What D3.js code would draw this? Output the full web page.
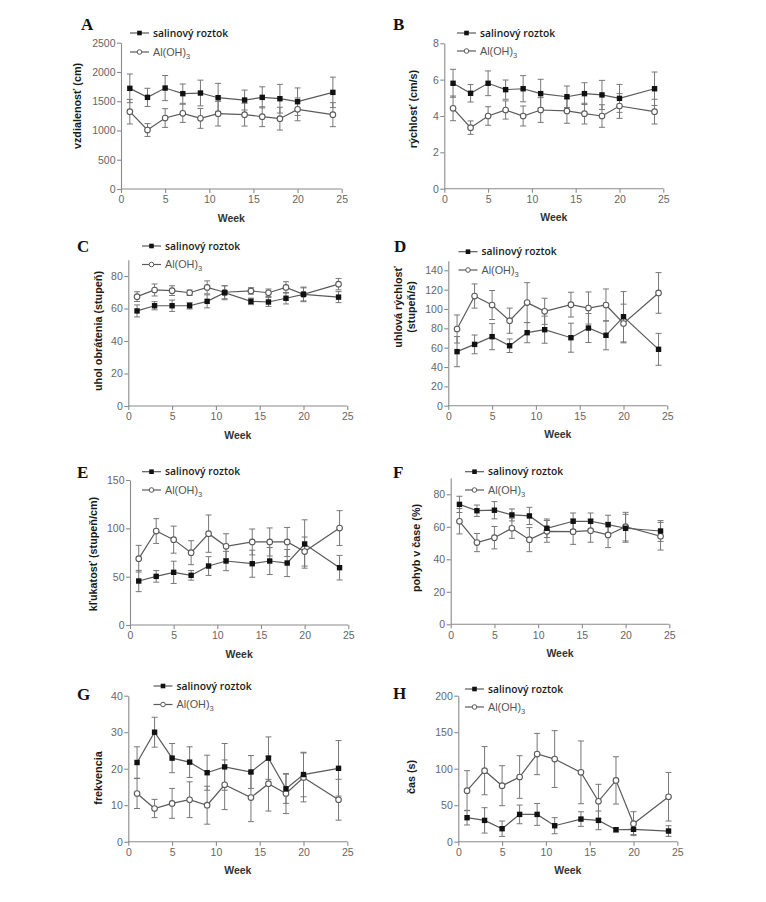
<!DOCTYPE html>
<html><head><meta charset="utf-8">
<script src="https://cdn.jsdelivr.net/npm/d3@7"></script>
<style>
html,body{margin:0;padding:0;background:#fff;}
</style>
</head><body>
<svg id="chart" width="766" height="902"></svg>
<script>
// ---------- DATA ----------
const weeks = [1, 3, 5, 7, 9, 11, 14, 16, 18, 20, 24];
const xTicks = [0, 5, 10, 15, 20, 25];
const seriesNames = ["salinový roztok", "Al(OH)"];
const panelLetters = ["A", "B", "C", "D", "E", "F", "G", "H"];
const yTitles = [["vzdialenosť (cm)"], ["rýchlosť (cm/s)"], ["uhol obrátenia (stupeň)"], ["uhlová rýchlosť", "(stupeň/s)"],
                 ["kľukatosť (stupeň/cm)"], ["pohyb v čase (%)"], ["frekvencia"], ["čas (s)"]];
const yTicksA = [0, 500, 1000, 1500, 2000, 2500];
const yTicksB = [0, 2, 4, 6, 8];
const yTicksC = [0, 20, 40, 60, 80];
const yTicksD = [0, 20, 40, 60, 80, 100, 120, 140];
const yTicksE = [0, 50, 100, 150];
const yTicksF = [0, 20, 40, 60, 80];
const yTicksG = [0, 10, 20, 30, 40];
const yTicksH = [0, 50, 100, 150, 200];
const yMax = [2500, 8, 90, 150, 150, 90, 40, 200];

const salineA = [1720, 1566, 1725, 1629, 1640, 1560, 1520, 1566, 1543, 1492, 1651];
const salineAErr = [245, 155, 215, 165, 220, 245, 170, 180, 245, 235, 260];
const alA = [1321, 1008, 1213, 1293, 1207, 1287, 1270, 1236, 1202, 1361, 1270];
const alAErr = [210, 110, 160, 155, 170, 210, 195, 170, 195, 195, 205];

const salineB = [5.80, 5.25, 5.80, 5.45, 5.50, 5.23, 5.06, 5.23, 5.16, 4.97, 5.50];
const salineBErr = [0.77, 0.48, 0.68, 0.53, 0.72, 0.79, 0.59, 0.60, 0.80, 0.77, 0.92];
const alB = [4.42, 3.36, 4.00, 4.33, 4.00, 4.33, 4.28, 4.13, 4.00, 4.55, 4.24];
const alBErr = [0.68, 0.37, 0.51, 0.50, 0.55, 0.68, 0.68, 0.57, 0.62, 0.68, 0.68];

const salineC = [58.5, 61.7, 61.7, 61.7, 64.4, 69.7, 64.4, 64.0, 66.3, 68.7, 67.0];
const salineCErr = [3.7, 2.5, 3.5, 2.0, 4.0, 4.3, 2.0, 2.7, 3.5, 4.5, 3.4];
const alC = [67.3, 71.4, 71.0, 69.7, 73.0, 70.0, 70.8, 69.7, 73.0, 68.7, 75.0];
const alCErr = [3.0, 3.7, 3.0, 1.7, 4.0, 4.0, 2.0, 2.3, 3.5, 4.0, 3.5];

const salineD = [55.9, 63.4, 71.4, 62.0, 75.5, 78.6, 70.3, 80.3, 72.8, 92.0, 58.3];
const salineDErr = [15.6, 9.7, 13.5, 7.0, 10.4, 14.0, 15.0, 15.0, 15.0, 26.0, 16.5];
const alD = [79.3, 113.4, 104.1, 87.9, 106.6, 97.6, 104.5, 101.0, 104.1, 85.0, 116.6];
const alDErr = [14.5, 12.5, 15.0, 13.0, 20.6, 13.5, 12.8, 16.6, 16.6, 20.0, 21.0];

const salineE = [45.5, 50.3, 54.5, 51.4, 61.0, 66.2, 63.4, 66.2, 64.1, 83.8, 59.3];
const salineEErr = [11.0, 6.0, 11.5, 5.0, 9.7, 10.0, 14.0, 14.0, 14.0, 25.0, 12.7];
const alE = [68.6, 97.2, 88.3, 74.8, 94.5, 81.4, 85.9, 85.9, 85.9, 76.0, 100.3];
const alEErr = [13.8, 12.8, 14.0, 12.4, 19.3, 13.0, 13.4, 14.5, 15.0, 15.0, 18.0];

const salineF = [73.8, 69.9, 70.2, 67.3, 66.7, 59.1, 63.4, 63.4, 61.3, 59.1, 57.4];
const salineFErr = [5.0, 3.5, 5.3, 3.7, 5.3, 5.7, 5.1, 5.1, 5.8, 8.6, 6.4];
const alF = [63.4, 50.3, 53.3, 59.1, 52.1, 57.2, 57.0, 57.6, 55.0, 60.1, 54.2];
const alFErr = [7.8, 5.6, 6.9, 6.2, 7.4, 6.7, 7.8, 7.1, 7.8, 8.8, 8.5];

const salineG = [21.7, 30.0, 22.9, 21.8, 18.9, 20.5, 19.1, 22.9, 14.5, 18.4, 20.1];
const salineGErr = [4.3, 4.1, 4.0, 4.2, 4.8, 6.4, 4.5, 5.8, 4.0, 6.1, 7.6];
const alG = [13.2, 9.1, 10.5, 11.5, 10.0, 15.6, 12.1, 15.9, 13.2, 17.6, 11.5];
const alGErr = [4.1, 2.5, 4.1, 4.9, 5.2, 6.8, 6.6, 7.5, 5.5, 6.7, 5.6];

const salineH = [32.9, 29.2, 17.8, 37.4, 37.4, 21.9, 31.0, 29.2, 16.4, 16.9, 14.6];
const salineHErr = [10.0, 17.4, 10.5, 12.8, 15.0, 11.0, 10.0, 12.8, 3.0, 7.0, 7.3];
const alH = [69.9, 97.3, 76.7, 88.6, 120.1, 113.2, 95.0, 55.3, 84.0, 24.7, 61.6];
const alHErr = [27.4, 33.0, 27.4, 29.2, 28.3, 38.9, 43.0, 23.3, 32.4, 16.4, 33.3];

const yTickSets = [yTicksA, yTicksB, yTicksC, yTicksD, yTicksE, yTicksF, yTicksG, yTicksH];
const salineSets = [salineA, salineB, salineC, salineD, salineE, salineF, salineG, salineH];
const salineErrSets = [salineAErr, salineBErr, salineCErr, salineDErr, salineEErr, salineFErr, salineGErr, salineHErr];
const alSets = [alA, alB, alC, alD, alE, alF, alG, alH];
const alErrSets = [alAErr, alBErr, alCErr, alDErr, alEErr, alFErr, alGErr, alHErr];

// ---------- LAYOUT (pixel geometry only) ----------
// x0/x1: pixel of week 0 / 25; y0: pixel of value 0; ppu: pixels per unit
const layout = [
  {x0:121,   x1:341.7, y0:189,   ppu:146.3/2500, ly:[77,106],   L:[81,30],  leg:[130,33,52]},
  {x0:444.3, x1:663.3, y0:188.7, ppu:145.4/8,    ly:[413,109],  L:[393,30], leg:[457,33,51]},
  {x0:128.3, x1:347.3, y0:406,   ppu:130/80,     ly:[98,331],   L:[77,252], leg:[142,246,264.5]},
  {x0:448.3, x1:667.3, y0:405.7, ppu:135.4/140,  ly:[405,307],  L:[394,252],leg:[458.5,251.7,270]},
  {x0:130,   x1:348.3, y0:625,   ppu:145/150,    ly:[93,554],   L:[77,478], leg:[142,471.7,490]},
  {x0:450.7, x1:669.3, y0:624.3, ppu:130/80,     ly:[416.5,548],L:[393,478],leg:[465,471.7,490]},
  {x0:128.3, x1:347.3, y0:841.7, ppu:146/40,     ly:[98,778],   L:[77,700], leg:[153.5,686,704.5]},
  {x0:458.3, x1:677.3, y0:841.7, ppu:146/200,    ly:[411.5,777],L:[393,699],leg:[465,689,707]}
];

const svg = d3.select("#chart");
const lineCol = "#5a5a5a", axisCol = "#8a8a8a", tickTextCol = "#666";

function drawLegendItem(g, x, y, kind, label) {
  g.append("line").attr("x1", x).attr("x2", x + 19).attr("y1", y).attr("y2", y)
    .attr("stroke", lineCol).attr("stroke-width", 1.2);
  if (kind === 0) {
    g.append("rect").attr("x", x + 9.5 - 2.3).attr("y", y - 2.3).attr("width", 4.6).attr("height", 4.6).attr("fill", "#111");
    g.append("text").attr("x", x + 23).attr("y", y + 3.6)
      .attr("font-family", "'Open Sans', 'Liberation Sans', sans-serif").attr("font-weight", 600)
      .attr("font-size", 10.3).attr("fill", "#1a1a1a").text(label);
  } else {
    g.append("circle").attr("cx", x + 9.5).attr("cy", y).attr("r", 2.3)
      .attr("fill", "#fff").attr("stroke", lineCol).attr("stroke-width", 1);
    const t = g.append("text").attr("x", x + 23).attr("y", y + 3.8)
      .attr("font-family", "'Liberation Sans', Arial, sans-serif")
      .attr("font-size", 10.8).attr("fill", "#555").text(label);
    t.append("tspan").attr("font-size", 7.5).attr("dy", 3).text("3");
  }
}

layout.forEach((P, i) => {
  const g = svg.append("g");
  const x = d3.scaleLinear().domain([0, 25]).range([P.x0, P.x1]);
  const y = d3.scaleLinear().domain([0, yMax[i]]).range([P.y0, P.y0 - yMax[i] * P.ppu]);

  // axes
  const xa = g.append("g").attr("transform", `translate(0,${P.y0})`)
    .call(d3.axisBottom(x).tickValues(xTicks).tickSize(4).tickPadding(3).tickFormat(d3.format("d")));
  const ya = g.append("g").attr("transform", `translate(${P.x0},0)`)
    .call(d3.axisLeft(y).tickValues(yTickSets[i]).tickSize(4).tickPadding(1.5).tickSizeOuter(0).tickFormat(d3.format("d")));
  [xa, ya].forEach(a => {
    a.selectAll("path,line").attr("stroke", axisCol).attr("stroke-width", 1.1);
    a.selectAll("text").attr("fill", tickTextCol).attr("font-size", 10.5)
      .attr("font-family", "'Liberation Sans', Arial, sans-serif");
  });
  xa.select(".domain").attr("d", `M${P.x0},0H${P.x1}`);

  // x title
  g.append("text").attr("x", (P.x0 + P.x1) / 2).attr("y", P.y0 + 32.5).attr("text-anchor", "middle")
    .attr("font-family", "'Liberation Sans', Arial, sans-serif").attr("font-weight", "bold")
    .attr("font-size", 10.5).attr("fill", "#333").text("Week");

  // y title
  const lines = yTitles[i];
  lines.forEach((s, k) => {
    const off = lines.length === 1 ? 0 : (k === 0 ? -6.5 : 6.5);
    g.append("text").attr("transform", `translate(${P.ly[0] + off},${P.ly[1]}) rotate(-90)`)
      .attr("text-anchor", "middle").attr("dy", "0.35em")
      .attr("font-family", "'Liberation Sans', Arial, sans-serif").attr("font-weight", "bold")
      .attr("font-size", 10.8).attr("fill", "#1a1a1a").text(s);
  });

  // panel letter
  g.append("text").attr("x", P.L[0]).attr("y", P.L[1])
    .attr("font-family", "'Liberation Serif', 'Times New Roman', serif").attr("font-weight", "bold")
    .attr("font-size", 17).attr("fill", "#111").text(panelLetters[i]);

  // series
  const sets = [[salineSets[i], salineErrSets[i]], [alSets[i], alErrSets[i]]];
  const line = d3.line().x(d => x(d.w)).y(d => y(d.v));
  const dataS = sets.map(([v, e]) => weeks.map((w, j) => ({w, v: v[j], e: e[j]})));

  dataS.forEach(ds => {
    g.append("path").datum(ds).attr("d", line).attr("fill", "none")
      .attr("stroke", lineCol).attr("stroke-width", 1.2);
  });
  dataS.forEach(ds => {
    const eb = g.append("g").attr("stroke", "#777").attr("stroke-width", 1);
    ds.forEach(d => {
      const cx = x(d.w), yt = y(d.v + d.e), yb = y(Math.max(0, d.v - d.e));
      eb.append("line").attr("x1", cx).attr("x2", cx).attr("y1", yt).attr("y2", yb);
      eb.append("line").attr("x1", cx - 3).attr("x2", cx + 3).attr("y1", yt).attr("y2", yt);
      eb.append("line").attr("x1", cx - 3).attr("x2", cx + 3).attr("y1", yb).attr("y2", yb);
    });
  });
  // markers: circles then squares
  g.selectAll(".c").data(dataS[1]).join("circle")
    .attr("cx", d => x(d.w)).attr("cy", d => y(d.v)).attr("r", 2.8)
    .attr("fill", "#fff").attr("stroke", lineCol).attr("stroke-width", 1.1);
  g.selectAll(".s").data(dataS[0]).join("rect")
    .attr("x", d => x(d.w) - 2.7).attr("y", d => y(d.v) - 2.7).attr("width", 5.4).attr("height", 5.4)
    .attr("fill", "#111");

  // legend
  drawLegendItem(g, P.leg[0], P.leg[1], 0, seriesNames[0]);
  drawLegendItem(g, P.leg[0], P.leg[2], 1, seriesNames[1]);
});
</script>
</body></html>
